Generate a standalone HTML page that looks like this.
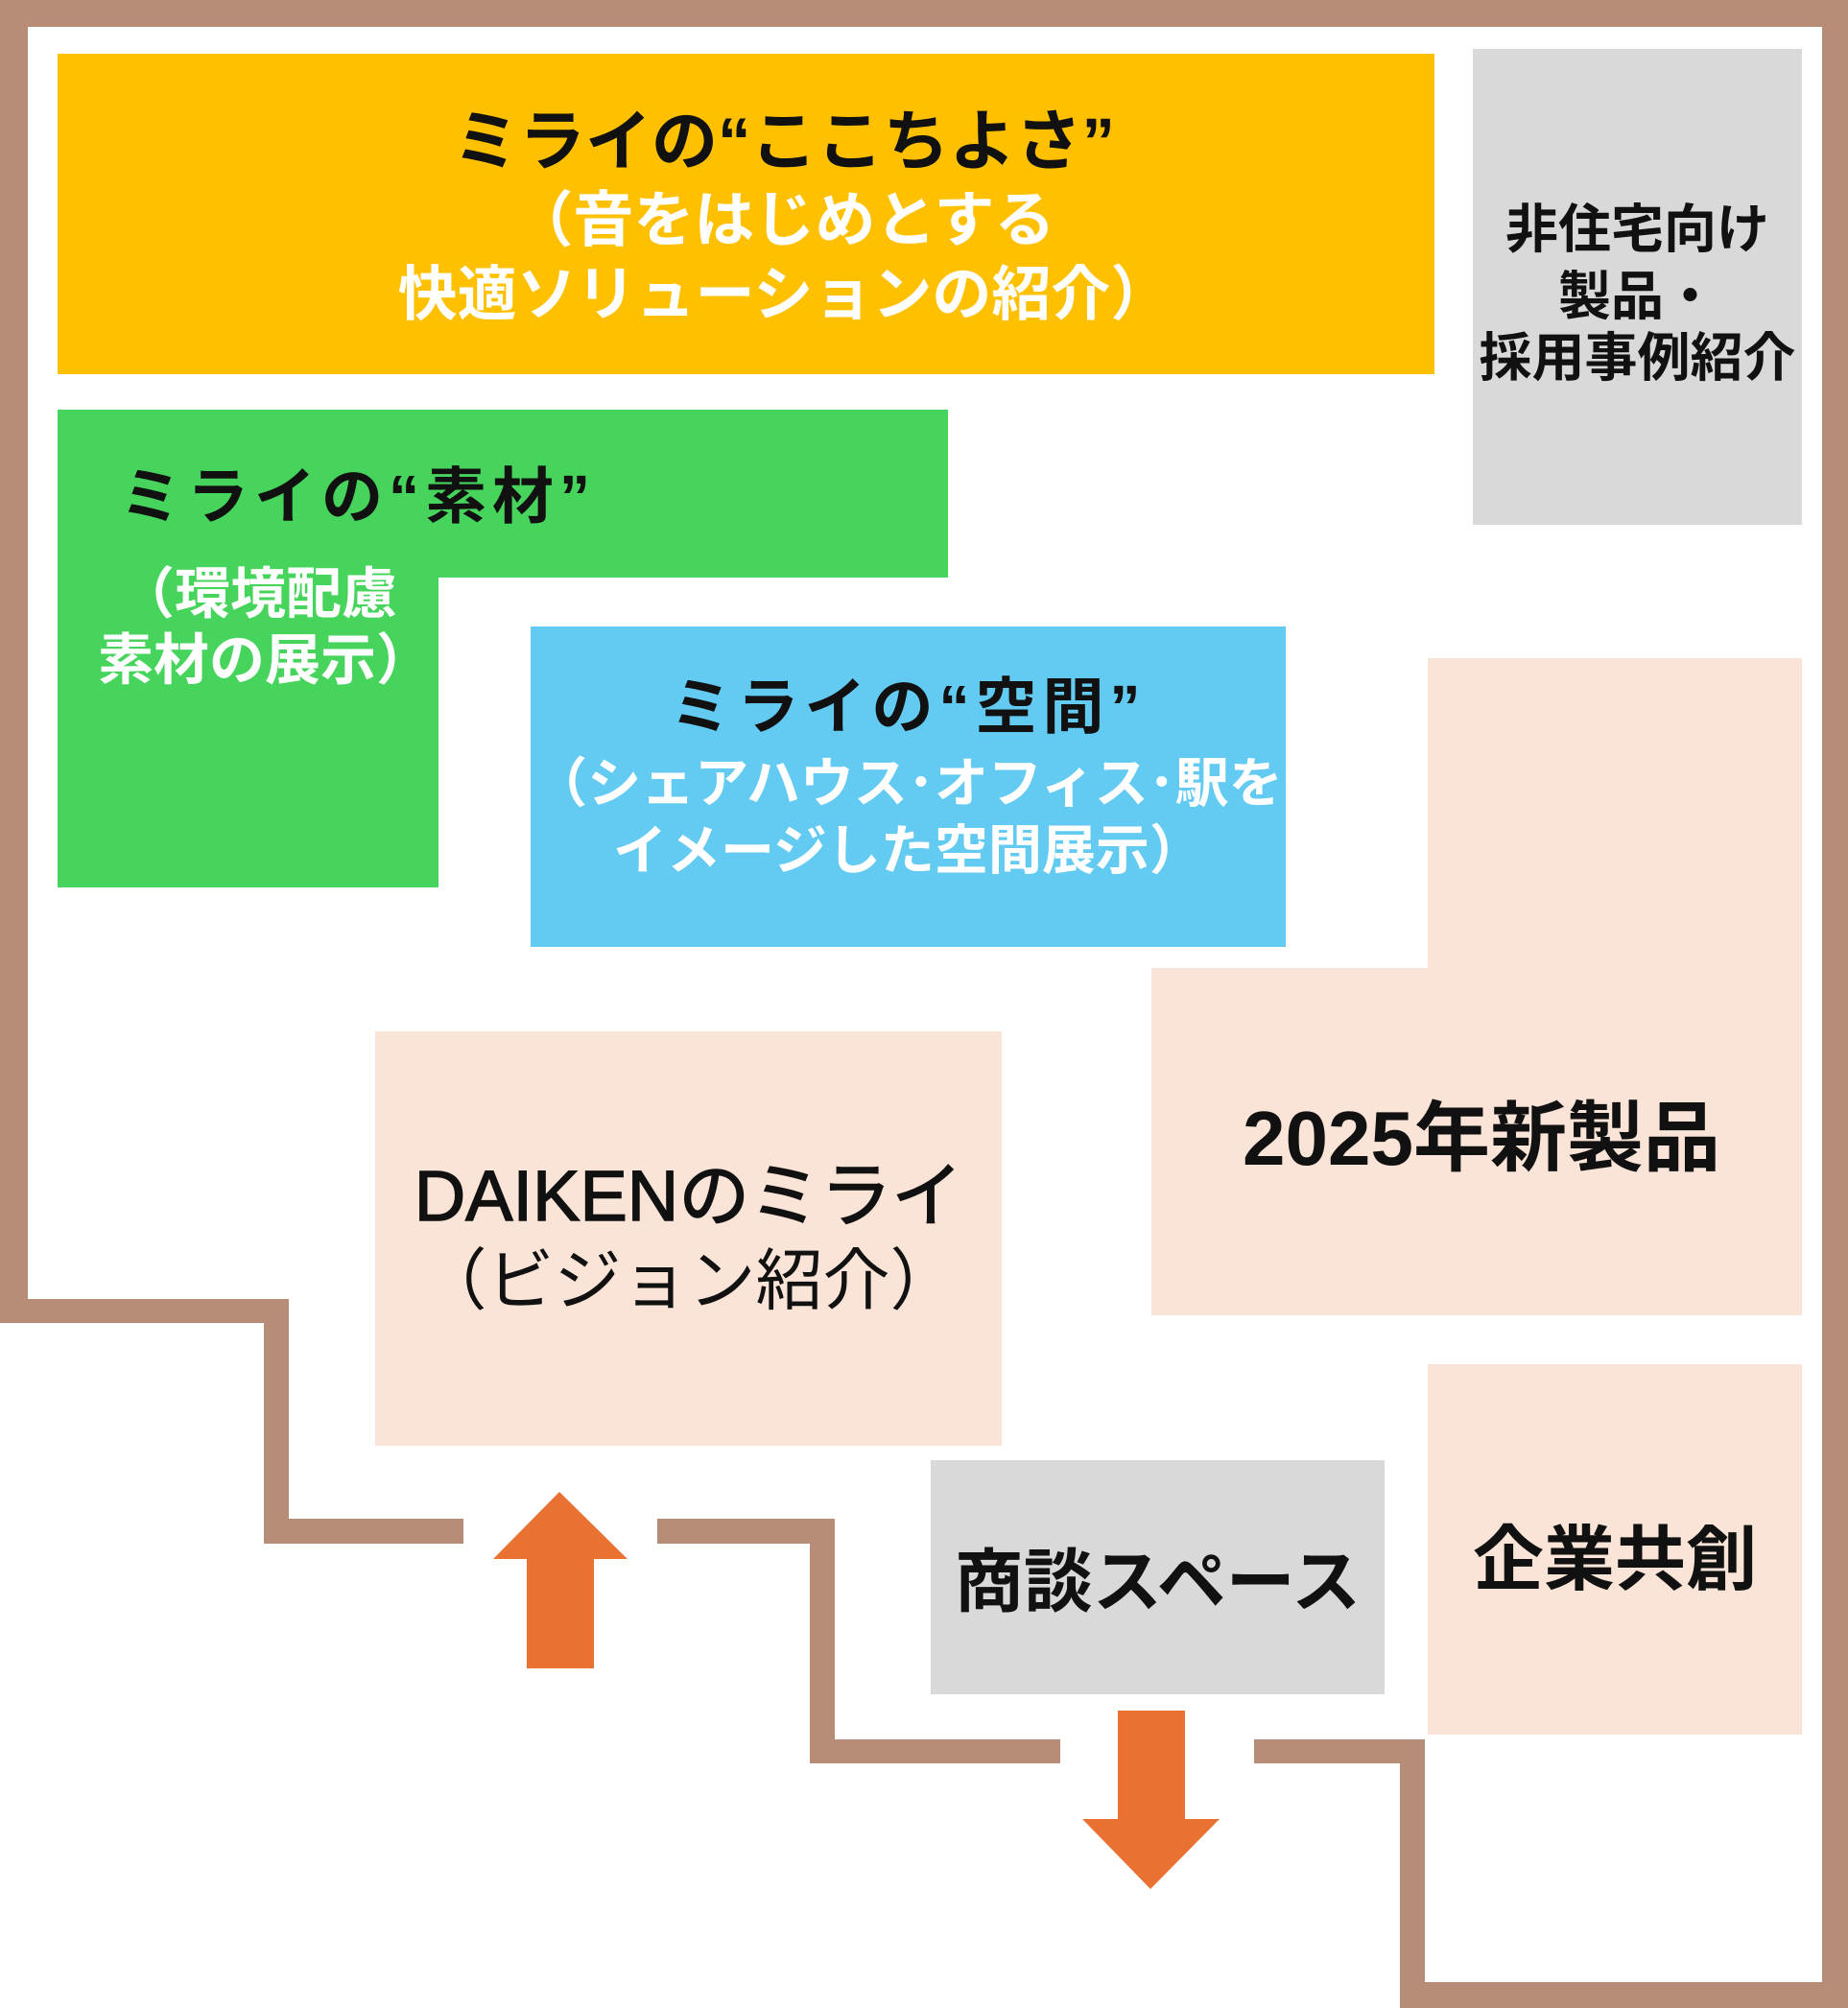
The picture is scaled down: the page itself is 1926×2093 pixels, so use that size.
<!DOCTYPE html>
<html><head><meta charset="utf-8"><style>
*{margin:0;padding:0}
body{width:1926px;height:2093px;position:relative;background:#fff;overflow:hidden;font-family:"Liberation Sans","Noto Sans CJK JP",sans-serif;font-weight:bold}
.b{position:absolute;background:#B78D78}
.r{position:absolute}
.t{position:absolute;white-space:nowrap;text-align:center;line-height:1}
</style></head><body>
<div class="b" style="left:0;top:0;width:1926px;height:28px"></div>
<div class="b" style="left:0;top:0;width:29px;height:1379px"></div>
<div class="b" style="left:0;top:1354px;width:301px;height:25px"></div>
<div class="b" style="left:275px;top:1354px;width:26px;height:255px"></div>
<div class="b" style="left:275px;top:1583px;width:208px;height:26px"></div>
<div class="b" style="left:685px;top:1583px;width:185px;height:26px"></div>
<div class="b" style="left:844px;top:1583px;width:26px;height:255px"></div>
<div class="b" style="left:844px;top:1813px;width:261px;height:25px"></div>
<div class="b" style="left:1307px;top:1813px;width:178px;height:25px"></div>
<div class="b" style="left:1459px;top:1813px;width:26px;height:280px"></div>
<div class="b" style="left:1459px;top:2066px;width:467px;height:27px"></div>
<div class="b" style="left:1899px;top:0;width:27px;height:2093px"></div>

<div class="r" style="left:60px;top:56px;width:1435px;height:334px;background:#FFC000"></div>
<div class="r" style="left:1535px;top:51px;width:343px;height:496px;background:#D9D9D9"></div>
<div class="r" style="left:60px;top:427px;width:928px;height:175px;background:#47D45C"></div>
<div class="r" style="left:60px;top:427px;width:397px;height:498px;background:#47D45C"></div>
<div class="r" style="left:553px;top:653px;width:787px;height:334px;background:#63CAF2"></div>
<div class="r" style="left:1488px;top:686px;width:390px;height:685px;background:#FAE3D7"></div>
<div class="r" style="left:1200px;top:1009px;width:678px;height:362px;background:#FAE3D7"></div>
<div class="r" style="left:391px;top:1075px;width:653px;height:432px;background:#FAE3D7"></div>
<div class="r" style="left:970px;top:1522px;width:473px;height:244px;background:#D9D9D9"></div>
<div class="r" style="left:1488px;top:1422px;width:390px;height:386px;background:#FAE3D7"></div>

<svg class="r" style="left:0;top:0" width="1926" height="2093">
<polygon fill="#E97132" points="583,1555 654,1625 619,1625 619,1739 549,1739 549,1625 514,1625"/>
<polygon fill="#E97132" points="1165,1783 1235,1783 1235,1896 1271,1896 1199,1969 1128,1896 1165,1896"/>
</svg>

<div class="t" style="left:117px;width:1400px;top:113px;font-size:69px;color:#111">ミライの“ここちよさ”</div>
<div class="t" style="left:117px;width:1400px;top:199px;font-size:63px;color:#fff">（音をはじめとする</div>
<div class="t" style="left:117px;width:1400px;top:277px;font-size:62px;color:#fff">快適ソリューションの紹介）</div>

<div class="t" style="left:1535px;width:343px;top:212px;font-size:55px;color:#111">非住宅向け</div>
<div class="t" style="left:1535px;width:343px;top:282px;font-size:55px;color:#111">製品・</div>
<div class="t" style="left:1535px;width:343px;top:346px;font-size:55px;color:#111">採用事例紹介</div>

<div class="t" style="left:125px;top:486px;font-size:64px;letter-spacing:6px;color:#111;text-align:left">ミライの“素材”</div>
<div class="t" style="left:124px;top:591px;font-size:58px;color:#fff;text-align:left">（環境配慮</div>
<div class="t" style="left:102px;top:660px;font-size:58px;color:#fff;text-align:left">素材の展示）</div>

<div class="t" style="left:553px;width:787px;top:705px;font-size:64px;letter-spacing:6px;color:#111">ミライの“空間”</div>
<div class="t" style="left:553px;width:787px;top:789px;font-size:56px;color:#fff">（シェアハウス･オフィス･駅を</div>
<div class="t" style="left:553px;width:787px;top:859px;font-size:56px;color:#fff">イメージした空間展示）</div>

<div class="t" style="left:391px;width:653px;top:1210px;font-size:74px;font-weight:normal;color:#111;-webkit-text-stroke:1.5px #111">DAIKENのミライ</div>
<div class="t" style="left:391px;width:653px;top:1300px;font-size:70px;font-weight:normal;color:#111">（ビジョン紹介）</div>

<div class="t" style="left:1200px;width:678px;top:1147px;font-size:80px;color:#111;padding-left:10px;box-sizing:border-box">2025年新製品</div>

<div class="t" style="left:970px;width:473px;top:1614px;font-size:72px;color:#111">商談スペース</div>
<div class="t" style="left:1488px;width:390px;top:1589px;font-size:74px;color:#111">企業共創</div>
</body></html>
